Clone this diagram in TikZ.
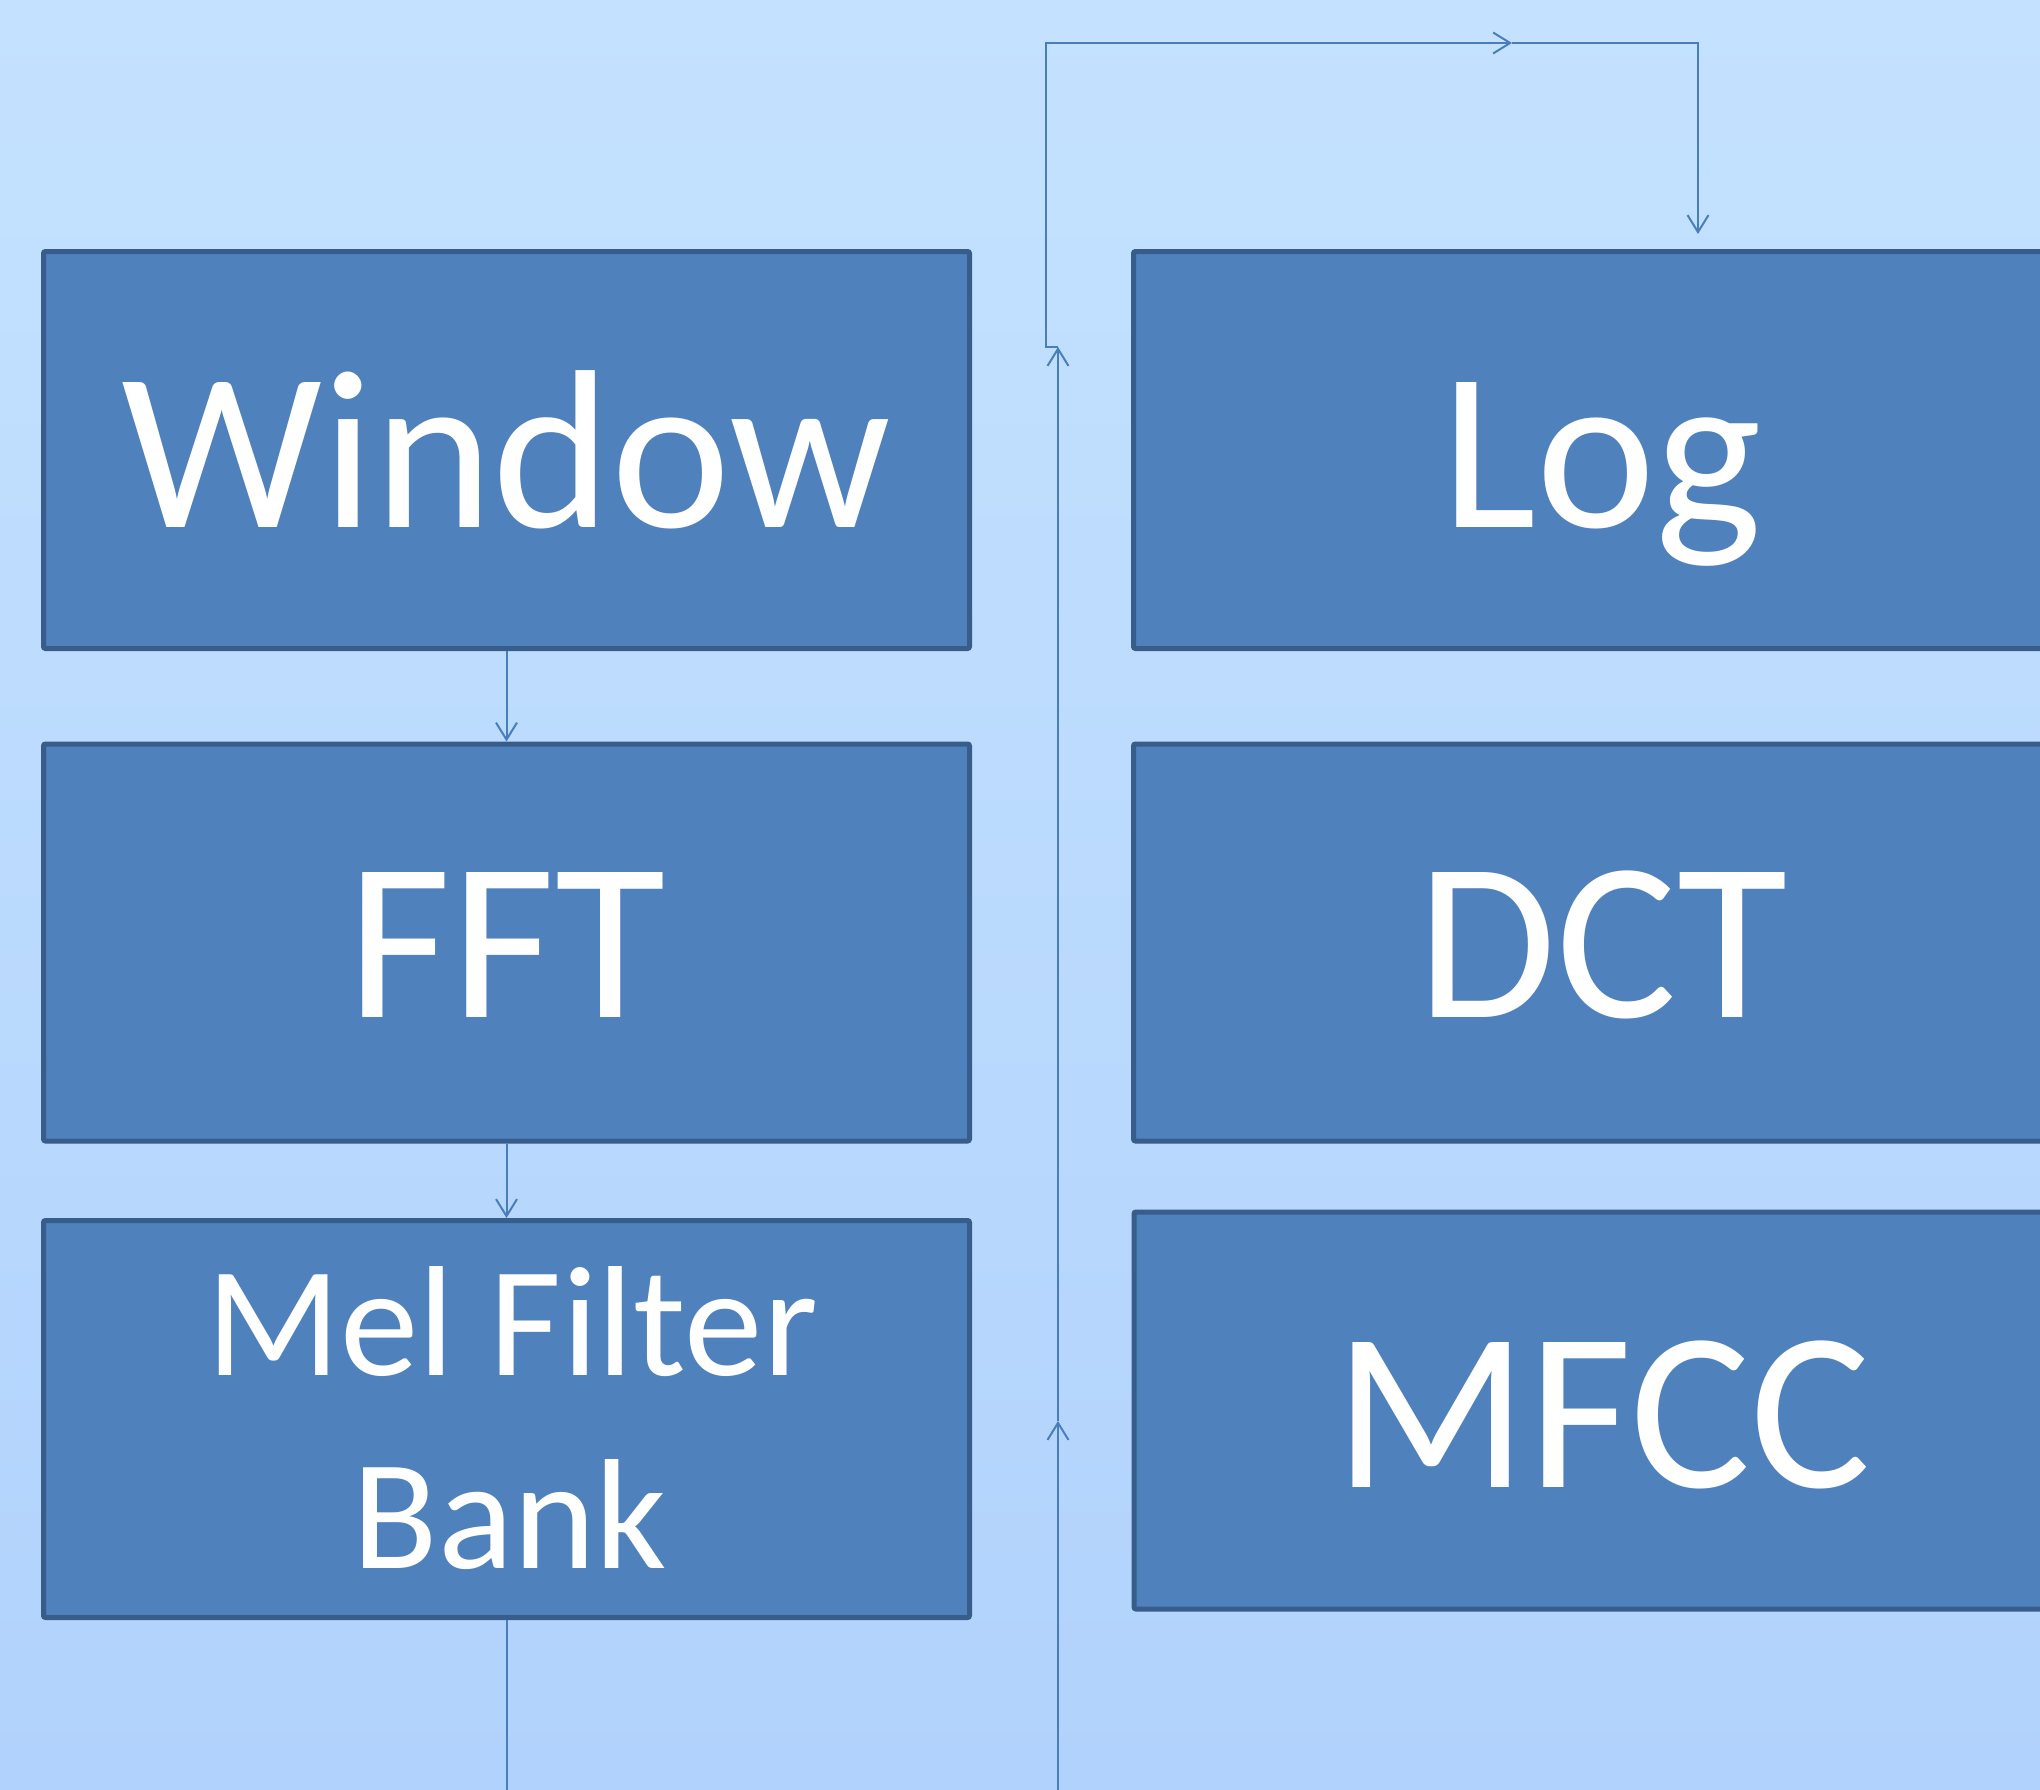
\documentclass[tikz,border=0pt]{standalone}
\usepackage{fontspec}
\setmainfont{Carlito}
\usetikzlibrary{arrows.meta}
\definecolor{bgtop}{RGB}{196,226,255}
\definecolor{bgbot}{RGB}{177,210,252}
\definecolor{boxfill}{RGB}{79,129,189}
\definecolor{boxline}{RGB}{56,93,138}
\definecolor{connc}{RGB}{74,126,187}
\tikzset{
  blk/.style={draw=boxline, fill=boxfill, line width=5pt, rounded corners=2pt,
    minimum width=926pt, minimum height=397pt, inner sep=0pt},
  rblk/.style={blk, minimum width=936pt},
  bigtxt/.style={anchor=base, text=white, inner sep=0pt, font=\fontsize{226}{270}\selectfont},
  midtxt/.style={anchor=base, text=white, inner sep=0pt, font=\fontsize{157}{190}\selectfont},
  conn/.style={draw=connc, line width=2pt},
  arr/.style={conn, -{Straight Barb[length=17pt,width=21pt,line width=2pt]}}
}
\begin{document}
\begin{tikzpicture}[x=1pt,y=-1pt]
\useasboundingbox (0,0) rectangle (2040,1790);
\shade[top color=bgtop, bottom color=bgbot] (0,0) rectangle (2040,1790);
\clip (0,0) rectangle (2040,1790);
% left column
\node[blk] (win) at (506.5,450) {};
\node[blk] (fft) at (506.5,942.5) {};
\node[blk] (mel) at (506.5,1419) {};
% right column
\node[rblk] (log) at (1601.5,450) {};
\node[rblk] (dct) at (1601.5,942.5) {};
\node[rblk] (mfcc) at (1602,1410.5) {};
% texts
\node[bigtxt] (twin) at (506.5,527) {Window};
\node[bigtxt] (tfft) at (506.5,1017) {FFT};
\node[midtxt] (tmel1) at (512,1375) {Mel Filter};
\node[midtxt] (tmel2) at (510,1568) {Bank};
\node[bigtxt] (tlog) at (1601.5,527) {Log};
\node[bigtxt] (tdct) at (1603,1017) {DCT};
\node[bigtxt] (tmfcc) at (1603,1487) {MFCC};
% connectors
\draw[arr] (win.south) -- (fft.north);
\draw[arr] (fft.south) -- (mel.north);
\coordinate (b1) at (506.5,1790);
\draw[conn] (mel.south) -- (b1);
\coordinate (b2) at (1058,1790);
\coordinate (m1) at (1058,1421);
\coordinate (j1) at (1058,347);
\coordinate (j2) at (1046,347);
\coordinate (c1) at (1046,43);
\coordinate (m2) at (1512,43);
\coordinate (c2) at (1698,43);
\coordinate (e) at (1698,234);
\draw[arr] (b2) -- (m1);
\draw[arr] (m1) -- (j1);
\draw[arr, line join=miter] (j1) -- (j2) -- (c1) -- (m2);
\draw[arr, line join=miter] (m2) -- (c2) -- (e);
\end{tikzpicture}
\end{document}
